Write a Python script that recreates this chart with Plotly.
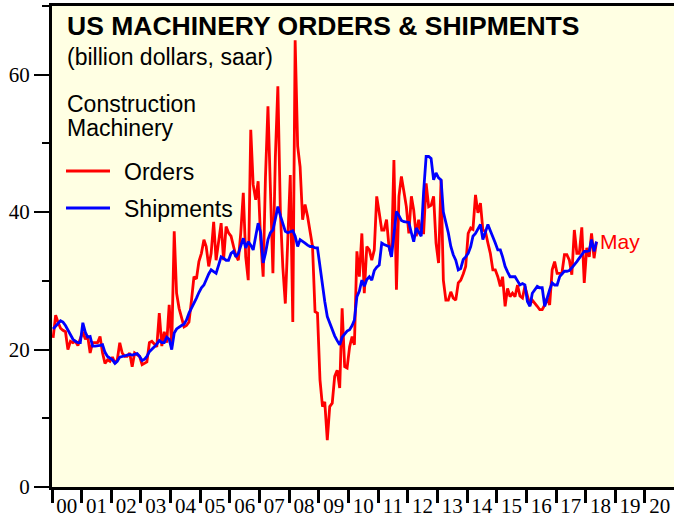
import plotly.graph_objects as go
import pandas as pd

# Monthly values, Jan 2000 - May 2018 (billion dollars, saar)
orders = [
    21.7, 25.0, 24.0, 23.1, 22.8, 22.6, 20.0, 21.2, 21.0, 21.2, 20.6, 21.7,  # 2000
    22.6, 21.5, 22.0, 19.5, 21.0, 21.0, 21.0, 21.9, 19.5, 18.0, 18.5, 18.3,  # 2001
    18.9, 18.0, 18.5, 21.0, 19.5, 19.0, 19.0, 19.5, 17.5, 19.5, 19.3, 19.0,  # 2002
    17.8, 18.0, 18.2, 21.0, 21.2, 20.8, 20.4, 25.3, 20.5, 22.6, 21.0, 26.5,  # 2003
    20.5, 37.2, 28.2, 26.0, 24.8, 23.3, 23.5, 24.0, 27.2, 30.6, 30.3, 32.8,  # 2004
    34.0, 36.0, 35.0, 32.1, 34.0, 38.6, 33.0, 35.5, 38.4, 33.0, 37.9, 37.0,  # 2005
    36.5, 35.0, 33.7, 33.0, 37.0, 42.8, 33.5, 30.1, 52.0, 44.0, 41.8, 44.5,  # 2006
    36.0, 30.6, 45.0, 55.4, 42.0, 31.1, 48.0, 58.3, 40.0, 32.0, 26.7, 36.9,  # 2007
    45.4, 24.0, 65.0, 49.6, 46.6, 38.9, 41.1, 39.4, 37.0, 35.0, 25.5, 25.3,  # 2008
    15.6, 11.7, 12.4, 6.8, 11.7, 12.2, 16.1, 17.0, 14.4, 26.0, 17.5, 17.3,   # 2009
    20.4, 21.9, 20.7, 34.3, 30.6, 36.9, 28.2, 35.0, 34.5, 33.0, 34.5, 42.3,  # 2010
    39.9, 37.4, 37.4, 38.9, 35.0, 33.5, 47.6, 28.7, 42.3, 45.2, 43.0, 40.8,  # 2011
    36.9, 42.3, 40.3, 36.5, 38.9, 37.0, 37.0, 44.2, 40.8, 41.0, 42.3, 35.5,  # 2012
    32.6, 44.7, 30.1, 27.2, 27.2, 28.4, 27.5, 27.2, 29.7, 30.1, 31.0, 32.1,  # 2013
    36.9, 37.7, 37.5, 42.5, 39.9, 41.3, 37.4, 37.2, 35.5, 34.0, 31.6, 31.6,  # 2014
    30.6, 29.2, 30.6, 26.3, 28.9, 27.7, 28.2, 27.7, 29.4, 27.8, 27.5, 29.2,  # 2015
    27.8, 26.5, 27.2, 26.8, 26.3, 25.8, 25.8, 26.5, 27.5, 26.5, 31.6, 32.8,  # 2016
    31.1, 31.1, 31.1, 33.8, 33.8, 33.0, 30.9, 37.4, 34.0, 34.0, 37.8, 29.7,  # 2017
    34.8, 33.5, 36.9, 33.3, 35.7,                                            # 2018
]

shipments = [
    23.0, 23.5, 23.8, 24.2, 24.0, 23.5, 22.8, 22.0, 21.5, 21.2, 21.0, 21.0,  # 2000
    23.9, 22.5, 21.8, 21.9, 20.5, 20.5, 20.5, 20.6, 20.7, 19.6, 19.0, 18.8,  # 2001
    18.5, 18.0, 18.3, 18.9, 19.0, 19.2, 19.2, 19.3, 19.2, 19.3, 19.4, 19.0,  # 2002
    18.4, 18.6, 19.0, 19.7, 20.0, 20.4, 20.8, 21.3, 21.0, 21.0, 21.8, 21.5,  # 2003
    20.0, 22.4, 23.0, 23.3, 23.5, 23.7, 24.3, 25.3, 26.0, 26.8, 27.5, 28.3,  # 2004
    29.0, 29.4, 30.3, 31.0, 31.6, 31.3, 31.1, 32.3, 33.5, 33.3, 33.0, 33.0,  # 2005
    34.0, 34.3, 33.5, 34.0, 35.0, 36.2, 34.8, 35.7, 35.2, 34.5, 36.5, 38.4,  # 2006
    37.0, 32.6, 34.0, 36.0, 37.0, 37.4, 39.0, 40.8, 39.5, 38.5, 37.2, 37.0,  # 2007
    37.2, 37.3, 36.5, 35.0, 36.0, 35.8, 35.5, 35.2, 35.0, 35.0, 34.8, 34.8,  # 2008
    32.0, 29.2, 27.0, 24.8, 23.8, 22.9, 22.0, 21.3, 20.7, 21.8, 22.3, 22.7,  # 2009
    22.9, 23.5, 24.3, 27.7, 28.5, 30.1, 29.2, 30.2, 30.6, 30.1, 31.5, 32.0,  # 2010
    32.3, 35.5, 35.3, 35.2, 35.0, 33.5, 37.0, 40.1, 39.5, 38.8, 38.6, 38.5,  # 2011
    38.5, 37.0, 35.7, 37.7, 37.0, 36.5, 43.0, 48.1, 48.1, 47.8, 44.7, 45.7,  # 2012
    45.0, 44.7, 40.0, 38.5, 37.0, 35.0, 33.8, 33.0, 31.6, 31.8, 33.1, 33.5,  # 2013
    34.0, 35.0, 36.5, 36.9, 37.5, 38.2, 36.0, 37.0, 38.2, 37.3, 36.5, 35.5,  # 2014
    34.5, 34.5, 33.5, 32.1, 31.3, 30.6, 30.6, 30.6, 30.0, 29.4, 29.6, 29.4,  # 2015
    27.0, 26.3, 28.2, 28.7, 29.2, 29.0, 29.0, 26.3, 27.7, 28.7, 29.7, 29.4,  # 2016
    29.4, 30.6, 31.0, 31.4, 31.4, 31.5, 31.9, 32.3, 32.8, 33.3, 33.8, 34.3,  # 2017
    34.3, 34.4, 36.0, 34.3, 35.7,                                            # 2018
]

series_names = ["Orders", "Shipments"]
series_colors = ["#FF0000", "#0000FF"]
title_text = "US MACHINERY ORDERS &amp; SHIPMENTS"
subtitle_text = "(billion dollars, saar)"
group_lines = ["Construction", "Machinery"]
last_label = "May"

dates = pd.date_range("2000-01-01", periods=len(orders), freq="MS") + pd.Timedelta(days=14)

# plot area geometry (pixels)
L, R, T, B = 52, 0, 6, 34
W, H = 674, 521
PW, PH = W - L - R, H - T - B


def px(xp):
    return (xp - L) / PW


def py(yp):
    return (H - B - yp) / PH


fig = go.Figure()
for name, vals, col in zip(series_names, [orders, shipments], series_colors):
    fig.add_trace(go.Scatter(x=dates, y=vals, mode="lines", name=name,
                             line=dict(color=col, width=2.8), showlegend=False))

sans = "Liberation Sans, Arial, Helvetica, sans-serif"
serif = "Liberation Serif, Times New Roman, serif"

ann = [
    dict(text="<b>" + title_text + "</b>", x=px(66), y=py(26), size=26.5),
    dict(text=subtitle_text, x=px(66), y=py(57), size=23),
    dict(text=group_lines[0], x=px(66), y=py(104), size=23),
    dict(text=group_lines[1], x=px(66), y=py(127.5), size=23),
    dict(text=series_names[0], x=px(123), y=py(171.5), size=23),
    dict(text=series_names[1], x=px(123), y=py(208.5), size=23),
]
annotations = []
for a in ann:
    annotations.append(dict(text=a["text"], x=a["x"], y=a["y"], xref="paper", yref="paper",
                            xanchor="left", yanchor="middle", showarrow=False,
                            font=dict(family=sans, size=a["size"], color="black"),
                            align="left", borderpad=0))
annotations.append(dict(text=last_label, x=dates[-1], y=shipments[-1], xref="x", yref="y",
                        xanchor="left", yanchor="middle", xshift=2, showarrow=False,
                        font=dict(family=sans, size=21, color="#FF0000")))

shapes = [
    dict(type="line", xref="paper", yref="paper", x0=px(66), x1=px(110),
         y0=py(171), y1=py(171), line=dict(color=series_colors[0], width=2.8)),
    dict(type="line", xref="paper", yref="paper", x0=px(66), x1=px(110),
         y0=py(208), y1=py(208), line=dict(color=series_colors[1], width=2.8)),
]

fig.update_layout(
    width=W, height=H,
    margin=dict(l=L, r=R, t=T, b=B, pad=0, autoexpand=False),
    paper_bgcolor="white", plot_bgcolor="#FFFFE3",
    annotations=annotations, shapes=shapes,
    xaxis=dict(type="date", range=["2000-01-01", "2020-12-25"], automargin=False,
               showline=True, linecolor="black", linewidth=3, mirror=True,
               ticks="outside", ticklen=13, tickwidth=2.5, tickcolor="black",
               dtick="M12", tick0="2000-01-01", tickformat="%y",
               ticklabelmode="period", ticklabelstandoff=-15,
               tickfont=dict(family=serif, size=21, color="black"),
               showgrid=False, zeroline=False),
    yaxis=dict(range=[0, 70], automargin=False, showline=True, linecolor="black", linewidth=3,
               ticks="outside", ticklen=15, tickwidth=2, tickcolor="black",
               dtick=20, tick0=0,
               minor=dict(dtick=10, ticks="outside", ticklen=7, tickwidth=1.5,
                          tickcolor="black", showgrid=False),
               tickfont=dict(family=serif, size=21, color="black"),
               showgrid=False, zeroline=False),
)

fig.write_html("out.html", config={"displayModeBar": False},
               post_script="document.body.style.margin='0';document.body.style.overflow='hidden';")
